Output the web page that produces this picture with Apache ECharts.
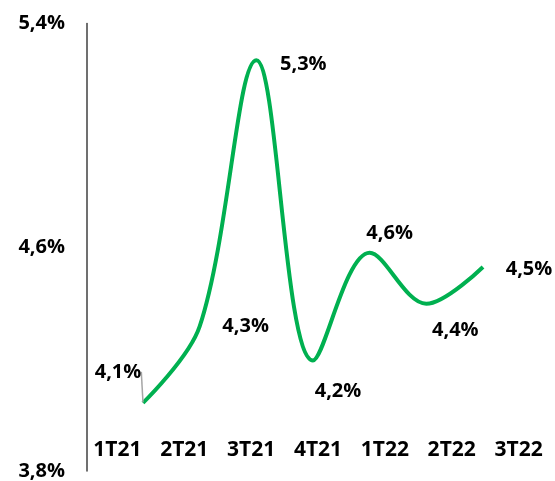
<!DOCTYPE html>
<html>
<head>
<meta charset="utf-8">
<script src="https://cdn.jsdelivr.net/npm/echarts@6/dist/echarts.min.js"></script>
<style>
  html, body { margin: 0; padding: 0; background: #fff; }
  #chart { width: 555px; height: 481px; }
</style>
</head>
<body>
<div id="chart"></div>
<script>
// trimestres
var quarters = ['1T21', '2T21', '3T21', '4T21', '1T22', '2T22', '3T22'];
// valores da linha (%)
var rates = [4.06, 4.33, 5.27, 4.21, 4.59, 4.41, 4.54];
// deslocamento dos rótulos em relação ao ponto
var labelDx = [-25, 46, 47, 25, 20, 29, 46];
var labelDy = [-31, 0, 4, 31, -20, 27, 2];

function fmt(v) {
    return v.toFixed(1).replace('.', ',') + '%';
}

function initChart() {
    var chart = echarts.init(document.getElementById('chart'));
    var font = '"Open Sans", sans-serif';

    var lineData = rates.map(function (v, i) {
        var item = { value: v };
        if (i === 0) {
            item.labelLine = { show: true, lineStyle: { color: '#a6a6a6', width: 1.5 } };
        }
        return item;
    });

    var option = {
        animation: false,
        grid: [
            { left: 84, right: 3, top: 23.5, bottom: 4.5 },
            { left: 143, right: 72, top: 23.5, bottom: 4.5 }
        ],
        xAxis: [{
            gridIndex: 0,
            type: 'category',
            data: quarters,
            offset: -21,
            axisLine: { show: false },
            axisTick: { show: false },
            axisLabel: {
                margin: 0,
                verticalAlign: 'middle',
                color: '#000',
                fontFamily: font,
                fontWeight: 'bold',
                fontSize: 21
            }
        }, {
            gridIndex: 1,
            type: 'category',
            boundaryGap: false,
            data: quarters,
            show: false
        }],
        yAxis: [{
            gridIndex: 0,
            type: 'value',
            min: 3.8,
            max: 5.4,
            interval: 0.8,
            offset: -3,
            axisLine: { show: true, lineStyle: { color: '#404040', width: 1.5 } },
            axisTick: { show: false },
            splitLine: { show: false },
            axisLabel: {
                margin: 22,
                color: '#000',
                fontFamily: font,
                fontWeight: 'bold',
                fontSize: 20,
                formatter: fmt
            }
        }, {
            gridIndex: 1,
            type: 'value',
            min: 3.8,
            max: 5.4,
            show: false
        }],
        series: [{
            type: 'line',
            xAxisIndex: 1,
            yAxisIndex: 1,
            data: lineData,
            smooth: 0.35,
            symbol: 'circle',
            symbolSize: 1,
            showSymbol: true,
            itemStyle: { color: 'rgba(0,0,0,0)' },
            lineStyle: { color: '#00b050', width: 4 },
            label: {
                show: true,
                position: 'inside',
                color: '#000',
                fontFamily: font,
                fontWeight: 'bold',
                fontSize: 20,
                formatter: function (p) { return fmt(p.value); }
            },
            labelLayout: function (p) {
                return { dx: labelDx[p.dataIndex], dy: labelDy[p.dataIndex] };
            },
            labelLine: { show: false }
        }]
    };
    chart.setOption(option);
}

initChart();
</script>
</body>
</html>
